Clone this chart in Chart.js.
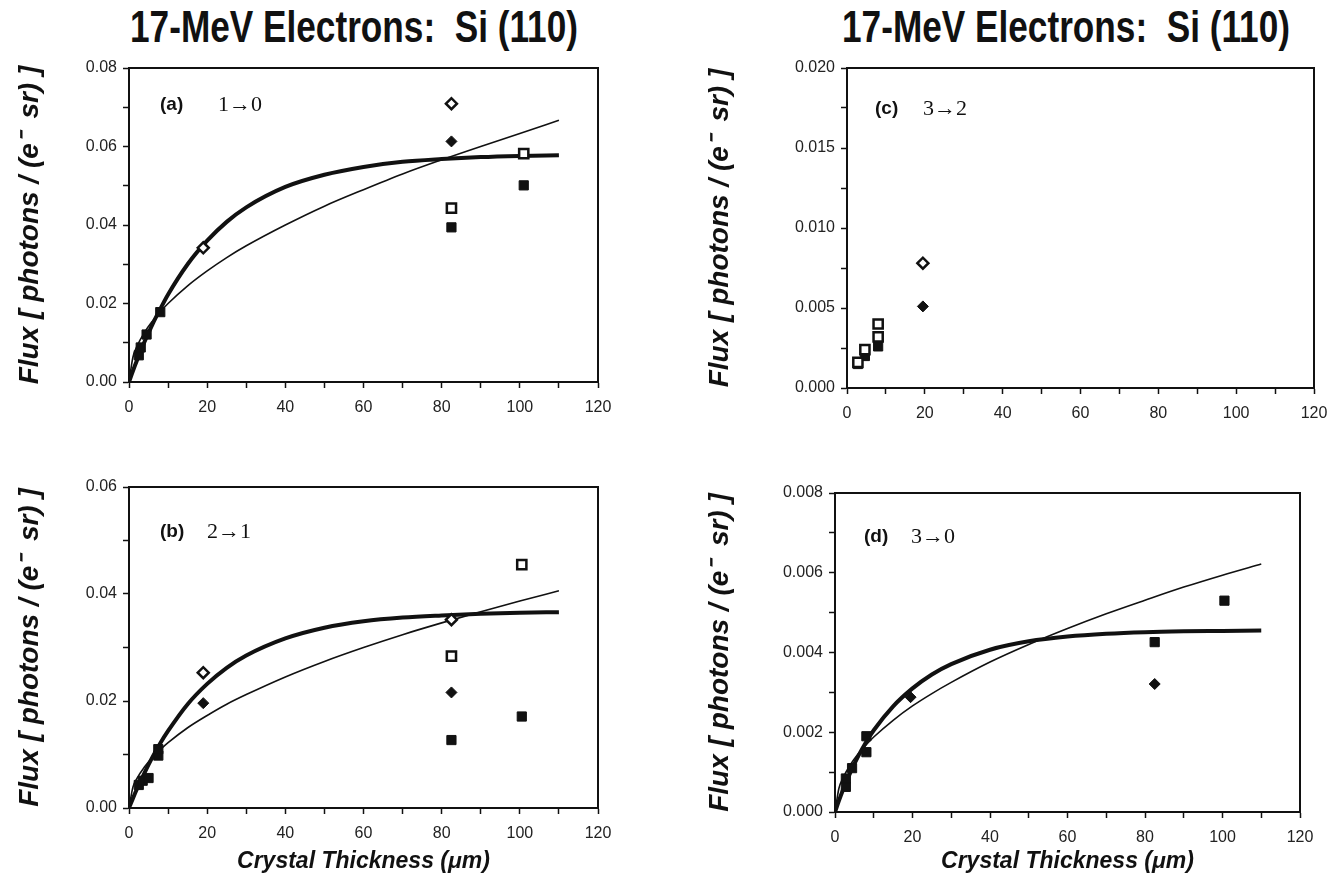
<!DOCTYPE html>
<html>
<head>
<meta charset="utf-8">
<script src="https://cdn.jsdelivr.net/npm/chart.js"></script>
<style>
  body { margin: 0; background: #fff; width: 1342px; height: 884px; position: relative; overflow: hidden; }
  .box { position: absolute; }
  .head { position: absolute; font: bold 44px "Liberation Sans", Arial, sans-serif; color: #111; white-space: nowrap; transform: scaleX(0.8); transform-origin: left top; }
  .tag { position: absolute; font: bold 19px "Liberation Sans", Arial, sans-serif; color: #111; }
  .trans { position: absolute; font: 22px "Liberation Serif", "Times New Roman", serif; color: #111; }
</style>
</head>
<body>
<div class="head" style="left:130px; top:2px;">17-MeV Electrons:&nbsp; Si (110)</div>
<div class="head" style="left:842px; top:2px;">17-MeV Electrons:&nbsp; Si (110)</div>

<div class="box" style="left:0; top:45px; width:640px; height:390px;"><canvas id="panelA"></canvas></div>
<div class="box" style="left:680px; top:45px; width:662px; height:390px;"><canvas id="panelC"></canvas></div>
<div class="box" style="left:0; top:465px; width:640px; height:419px;"><canvas id="panelB"></canvas></div>
<div class="box" style="left:680px; top:465px; width:662px; height:419px;"><canvas id="panelD"></canvas></div>

<div class="tag" style="left:160px; top:93px;">(a)</div><div class="trans" style="left:218px; top:91px;">1&rarr;0</div>
<div class="tag" style="left:875px; top:97px;">(c)</div><div class="trans" style="left:923px; top:95px;">3&rarr;2</div>
<div class="tag" style="left:160px; top:520px;">(b)</div><div class="trans" style="left:207px; top:518px;">2&rarr;1</div>
<div class="tag" style="left:864px; top:525px;">(d)</div><div class="trans" style="left:911px; top:523px;">3&rarr;0</div>

<script>
const curveX = [0, 1, 2, 4, 6, 8, 10, 15, 20, 25, 30, 40, 50, 60, 70, 80, 90, 100, 110];

// (a) 1->0
const aThick = [0, 0.0028, 0.0054, 0.0103, 0.0147, 0.0186, 0.0223, 0.0300, 0.0360, 0.0408, 0.0445, 0.0497, 0.0528, 0.0548, 0.0561, 0.0568, 0.0573, 0.0576, 0.0578];
const aThin = [0, 0.0063, 0.0090, 0.0127, 0.0155, 0.0179, 0.0200, 0.0245, 0.0283, 0.0317, 0.0347, 0.0400, 0.0448, 0.0490, 0.0530, 0.0566, 0.0600, 0.0633, 0.0667];
const aSolidSqX = [2.5, 3.0, 4.5, 8.0, 82.5, 101.0];
const aSolidSqY = [0.0068, 0.0088, 0.0121, 0.0178, 0.0394, 0.0501];
const aOpenSqX = [82.5, 101.0];
const aOpenSqY = [0.0443, 0.0582];
const aSolidDiaX = [82.5];
const aSolidDiaY = [0.0613];
const aOpenDiaX = [19.0, 82.5];
const aOpenDiaY = [0.0342, 0.0709];

// (b) 2->1
const bThick = [0, 0.0018, 0.0035, 0.0066, 0.0095, 0.0121, 0.0144, 0.0194, 0.0232, 0.0262, 0.0285, 0.0317, 0.0337, 0.0349, 0.0356, 0.0360, 0.0363, 0.0365, 0.0366];
const bThin = [0, 0.0039, 0.0055, 0.0077, 0.0095, 0.0109, 0.0122, 0.0150, 0.0173, 0.0194, 0.0212, 0.0245, 0.0274, 0.0300, 0.0324, 0.0346, 0.0367, 0.0387, 0.0406];
const bSolidSqX = [2.5, 3.5, 5.0, 7.5, 7.5, 82.5, 100.5];
const bSolidSqY = [0.0043, 0.0051, 0.0056, 0.0098, 0.0110, 0.0127, 0.0171];
const bOpenSqX = [82.5, 100.5];
const bOpenSqY = [0.0284, 0.0455];
const bSolidDiaX = [19.0, 82.5];
const bSolidDiaY = [0.0196, 0.0216];
const bOpenDiaX = [19.0, 82.5];
const bOpenDiaY = [0.0253, 0.0352];

// (c) 3->2 (no curves)
const cSolidSqX = [2.8, 4.6, 8.0];
const cSolidSqY = [0.0015, 0.0020, 0.0026];
const cOpenSqX = [2.8, 4.6, 8.0, 8.0];
const cOpenSqY = [0.0016, 0.0024, 0.0032, 0.0040];
const cSolidDiaX = [19.5];
const cSolidDiaY = [0.0051];
const cOpenDiaX = [19.5];
const cOpenDiaY = [0.0078];

// (d) 3->0
const dThick = [0, 0.00028, 0.00054, 0.00100, 0.00140, 0.00175, 0.00205, 0.00265, 0.00310, 0.00345, 0.00371, 0.00407, 0.00428, 0.00440, 0.00447, 0.00451, 0.00453, 0.00454, 0.00455];
const dThin = [0, 0.00059, 0.00084, 0.00119, 0.00146, 0.00168, 0.00188, 0.00230, 0.00266, 0.00297, 0.00325, 0.00376, 0.00420, 0.00460, 0.00497, 0.00531, 0.00564, 0.00594, 0.00622];
const dSolidSqX = [2.8, 2.8, 4.4, 8.1, 8.1, 82.5, 100.5];
const dSolidSqY = [0.00063, 0.00084, 0.00110, 0.00150, 0.00190, 0.00426, 0.00530];
const dSolidDiaX = [19.5, 82.5];
const dSolidDiaY = [0.00288, 0.00321];

const xTicks = { min: 0, max: 120, step: 10, labelEvery: 20 };
const yTitle = 'Flux [ photons / (e\u207B  sr) ]';
const xTitle = 'Crystal Thickness (\u03BCm)';

const pts = (xs, ys) => xs.map((x, i) => ({ x: x, y: ys[i] }));

function curve(ys, width) {
    return {
        type: 'line', data: pts(curveX, ys), borderColor: '#111', borderWidth: width,
        pointRadius: 0, tension: 0.4, cubicInterpolationMode: 'monotone', fill: false, order: 3
    };
}
function marks(xs, ys, style, open) {
    return {
        type: 'scatter', data: pts(xs, ys), pointStyle: style,
        pointRadius: style === 'rect' ? 6.5 : 5.5,
        pointBackgroundColor: open ? '#fff' : '#111',
        pointBorderColor: '#111', pointBorderWidth: open ? 2.5 : 1,
        order: open ? 1 : 2
    };
}

// rectangle round the plot area
const frame = {
    id: 'frame',
    afterDraw(chart) {
        const a = chart.chartArea, ctx = chart.ctx;
        ctx.save();
        ctx.strokeStyle = '#111';
        ctx.lineWidth = 2;
        ctx.strokeRect(a.left, a.top, a.right - a.left, a.bottom - a.top);
        ctx.restore();
    }
};

function panel(id, o) {
    const tickFont = { family: '"Liberation Sans", Arial, sans-serif', size: 16 };
    new Chart(document.getElementById(id), {
        type: 'scatter',
        data: { datasets: o.datasets },
        options: {
            responsive: true, maintainAspectRatio: false, animation: false,
            layout: { padding: { top: o.padTop, right: o.padRight, left: 0, bottom: 0 } },
            plugins: { legend: { display: false }, tooltip: { enabled: false } },
            scales: {
                x: {
                    type: 'linear', min: xTicks.min, max: xTicks.max,
                    ticks: {
                        stepSize: xTicks.step, color: '#222', font: tickFont, padding: 10, maxRotation: 0,
                        callback: v => (Math.abs(v % xTicks.labelEvery) < 1e-9 ? String(v) : '')
                    },
                    grid: { drawOnChartArea: false, tickLength: 6, tickColor: '#111', tickWidth: 1.5 },
                    border: { display: true, color: '#111', width: 2 },
                    title: {
                        display: o.xTitle, text: xTitle, color: '#111', padding: { top: 0, bottom: 9 },
                        font: { family: '"Liberation Sans", Arial, sans-serif', size: 23, weight: 'bold', style: 'italic' }
                    },
                    afterFit: s => { s.height = o.xHeight; }
                },
                y: {
                    type: 'linear', min: 0, max: o.yMax,
                    ticks: {
                        stepSize: o.yStep, color: '#222', font: tickFont, padding: 6,
                        callback: v => {
                            const k = v / o.yLabelEvery;
                            return Math.abs(k - Math.round(k)) < 1e-6 ? v.toFixed(o.digits) : '';
                        }
                    },
                    grid: { drawOnChartArea: false, tickLength: 6, tickColor: '#111', tickWidth: 1.5 },
                    border: { display: true, color: '#111', width: 2 },
                    title: {
                        display: true, text: yTitle, color: '#111', padding: { top: o.yTitlePad, bottom: 0 },
                        font: { family: '"Liberation Sans", Arial, sans-serif', size: 28, weight: 'bold', style: 'italic' }
                    },
                    afterFit: s => { s.width = o.yWidth; }
                }
            }
        },
        plugins: [frame]
    });
}

panel('panelA', {
    yMax: 0.08, yStep: 0.01, yLabelEvery: 0.02, digits: 2,
    padTop: 23, padRight: 42, yWidth: 129, xHeight: 53, yTitlePad: 13, xTitle: false,
    datasets: [
        curve(aThick, 4), curve(aThin, 1.6),
        marks(aSolidSqX, aSolidSqY, 'rect', false), marks(aSolidDiaX, aSolidDiaY, 'rectRot', false),
        marks(aOpenSqX, aOpenSqY, 'rect', true), marks(aOpenDiaX, aOpenDiaY, 'rectRot', true)
    ]
});

panel('panelC', {
    yMax: 0.02, yStep: 0.0025, yLabelEvery: 0.005, digits: 3,
    padTop: 23, padRight: 28, yWidth: 167, xHeight: 47, yTitlePad: 23, xTitle: false,
    datasets: [
        marks(cSolidSqX, cSolidSqY, 'rect', false), marks(cSolidDiaX, cSolidDiaY, 'rectRot', false),
        marks(cOpenSqX, cOpenSqY, 'rect', true), marks(cOpenDiaX, cOpenDiaY, 'rectRot', true)
    ]
});

panel('panelB', {
    yMax: 0.06, yStep: 0.01, yLabelEvery: 0.02, digits: 2,
    padTop: 22, padRight: 42, yWidth: 129, xHeight: 76, yTitlePad: 13, xTitle: true,
    datasets: [
        curve(bThick, 4), curve(bThin, 1.6),
        marks(bSolidSqX, bSolidSqY, 'rect', false), marks(bSolidDiaX, bSolidDiaY, 'rectRot', false),
        marks(bOpenSqX, bOpenSqY, 'rect', true), marks(bOpenDiaX, bOpenDiaY, 'rectRot', true)
    ]
});

panel('panelD', {
    yMax: 0.008, yStep: 0.001, yLabelEvery: 0.002, digits: 3,
    padTop: 28, padRight: 42, yWidth: 155, xHeight: 72, yTitlePad: 23, xTitle: true,
    datasets: [
        curve(dThick, 4), curve(dThin, 1.6),
        marks(dSolidSqX, dSolidSqY, 'rect', false), marks(dSolidDiaX, dSolidDiaY, 'rectRot', false)
    ]
});
</script>
</body>
</html>
